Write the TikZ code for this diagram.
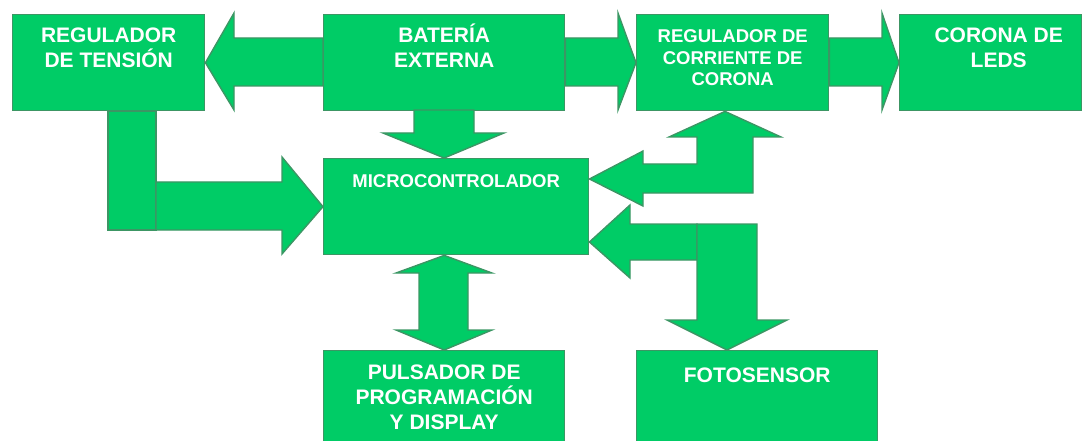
\documentclass[tikz,border=0pt]{standalone}
\usepackage{fontspec}
\setmainfont{Liberation Sans}
\definecolor{verde}{RGB}{0,204,102}
\definecolor{borde}{RGB}{60,150,100}
\begin{document}
\begin{tikzpicture}[x=1pt, y=-1pt,
  bloque/.style={shape=rectangle, draw=borde, fill=verde, line width=1.4pt, anchor=north west, minimum height=96pt, inner sep=0pt},
  rotulo/.style={anchor=base, yshift=-#1, align=center, text=white, font=\bfseries\fontsize{21}{25}\selectfont},
  rotulo/.default=29pt,
  rotulochico/.style={rotulo=#1, font=\bfseries\fontsize{18.5}{21.2}\selectfont},
  rotulochico/.default=29pt,
  flecha/.style={draw=borde, fill=verde, line width=1.4pt, line join=miter}]
\useasboundingbox (0,0) rectangle (1082,441);
\clip (0,0) rectangle (1082,441);
\node[bloque, minimum width=192pt, label={[rotulo=54pt]north:REGULADOR\\DE TENSIÓN}](rt) at (12,14) {};
\node[bloque, minimum width=241pt, label={[rotulo=54pt]north:BATERÍA\\EXTERNA}](bat) at (323,14) {};
\node[bloque, minimum width=192pt, label={[rotulochico=71.4pt]north:REGULADOR DE\\CORRIENTE DE\\CORONA}](rc) at (636,14) {};
\node[bloque, minimum width=182pt, label={[rotulo=54pt, xshift=8pt]north:CORONA DE\\LEDS}](leds) at (899,14) {};
\node[bloque, minimum width=265pt, label={[rotulochico]north:MICROCONTROLADOR}](mc) at (323,158) {};
\node[bloque, minimum width=241pt, label={[rotulo=79pt]north:PULSADOR DE\\PROGRAMACIÓN\\Y DISPLAY}](pd) at (323,350) {};
\node[bloque, minimum width=241pt, label={[rotulo=32pt]north:FOTOSENSOR}](fs) at (636,350) {};
\draw[flecha] (bat.west |- 0,38) -- (234,38) -- (234,13) -- (rt.east) -- (234,110) -- (234,86) -- (bat.west |- 0,86) -- cycle;
\draw[flecha] (bat.east |- 0,38) -- (618,38) -- (618,13) -- (rc.west) -- (618,110) -- (618,86) -- (bat.east |- 0,86) -- cycle;
\draw[flecha] (rc.east |- 0,38) -- (882,38) -- (882,13) -- (leds.west) -- (882,110) -- (882,86) -- (rc.east |- 0,86) -- cycle;
\draw[flecha] (414,110) -- (414,133) -- (383,133) -- (bat.south |- mc.north) -- (504,133) -- (474,133) -- (474,110) -- cycle;
\draw[flecha] (rt.south -| 108,0) rectangle (156,230);
\draw[flecha] (156,182) -- (282,182) -- (282,157) -- (mc.west) -- (282,254) -- (282,230) -- (156,230) -- cycle;
\draw[flecha] (rc.south -| 725,0) -- (781,137) -- (753,137) -- (753,193) -- (643,193) -- (643,206) -- (mc.east |- 0,179) -- (643,151) -- (643,164) -- (697,164) -- (697,137) -- (669,137) -- cycle;
\draw[flecha] (697,224) -- (630,224) -- (630,205) -- (mc.east |- 0,242) -- (630,278) -- (630,260) -- (697,260) -- cycle;
\draw[flecha] (697,224) -- (757,224) -- (757,320) -- (787,320) -- (fs.north -| 727,0) -- (667,320) -- (697,320) -- cycle;
\draw[flecha] (pd.north |- mc.south) -- (492,273) -- (468,273) -- (468,330) -- (492,330) -- (pd.north) -- (396,330) -- (419,330) -- (419,273) -- (396,273) -- cycle;
\end{tikzpicture}
\end{document}
